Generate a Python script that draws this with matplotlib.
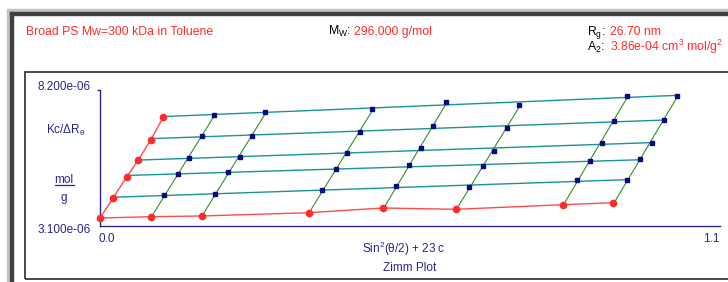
import matplotlib
matplotlib.use("Agg")
import matplotlib.pyplot as plt
from matplotlib.patches import Rectangle
import numpy as np

plt.rcParams['font.family'] = ['Liberation Sans', 'DejaVu Sans']
plt.rcParams['mathtext.fontset'] = 'custom'
plt.rcParams['mathtext.rm'] = 'Liberation Sans'
plt.rcParams['mathtext.it'] = 'Liberation Sans'
plt.rcParams['mathtext.bf'] = 'Liberation Sans:bold'

# sin^2(theta/2) values of each angle (c = 0 extrapolation points)
sin2 = [0.0905, 0.1804, 0.3708, 0.5016, 0.6316, 0.8220, 0.9107]
kc_zero_angle = [3.449, 3.475, 3.599, 3.775, 3.726, 3.899, 3.974]  # x1e-6

# 23*c for each concentration (theta = 0 extrapolation points)
conc_term = [0.0236, 0.0474, 0.0680, 0.0900, 0.1123]
kc_zero_conc = [4.161, 4.949, 5.575, 6.325, 7.188]  # x1e-6

intercept = 3.40  # x1e-6, 1/Mw

# measured Kc/R (x1e-6), rows = concentration, cols = angle
kc_meas = [
    [4.251, 4.289, 4.439, 4.600, 4.574, 4.814, 4.814],
    [5.050, 5.114, 5.226, 5.380, 5.339, 5.526, 5.601],
    [5.639, 5.699, 5.826, 6.014, 5.924, 6.201, 6.224],
    [6.486, 6.475, 6.614, 6.861, 6.764, 7.038, 7.075],
    [7.274, 7.364, 7.499, 7.750, 7.649, 7.975, 7.975],
]

y_min, y_max = 3.1, 8.2
x_min, x_max = 0.0, 1.1

navy = '#26268c'
red = '#ff2a2a'
red_line = '#ff4a4a'
teal = '#1a9494'
green = '#2f8f2f'
sq = '#0a0a80'

W, H = 728, 282
fig = plt.figure(figsize=(W / 100, H / 100), dpi=100)
fig.patch.set_facecolor('white')

def fx(px):
    return px / W

def fy(py):
    return 1 - py / H

# window frame decorations
fig.patches.append(Rectangle((fx(7), 0), fx(3), fy(9), transform=fig.transFigure, color='#c4c4c4', zorder=0))
fig.patches.append(Rectangle((fx(7), fy(12)), 1, 3 / H, transform=fig.transFigure, color='#c4c4c4', zorder=0))
fig.patches.append(Rectangle((fx(10), 0), fx(3), fy(12), transform=fig.transFigure, color='#404040', zorder=0))
fig.patches.append(Rectangle((fx(10), fy(14.5)), 1, 2.5 / H, transform=fig.transFigure, color='#404040', zorder=0))
fig.patches.append(Rectangle((fx(25), fy(279)), 1, (279 - 72) / H, transform=fig.transFigure,
                             fill=False, edgecolor='#3a3a3a', lw=1.3, zorder=0))

# header
fig.text(fx(26), fy(35), 'Broad PS Mw=300 kDa in Toluene', color=red, fontsize=8.8, va='baseline')
fig.text(fx(328), fy(35), r'M$_{\rm W}$:', color='black', fontsize=8.8, va='baseline')
fig.text(fx(354), fy(35), '296,000 g/mol', color=red, fontsize=8.8, va='baseline')
fig.text(fx(587), fy(35), r'R$_{\rm g}$:', color='black', fontsize=8.8, va='baseline')
fig.text(fx(610), fy(35), '26.70 nm', color=red, fontsize=8.8, va='baseline')
fig.text(fx(587), fy(51), r'A$_{\rm 2}$:', color='black', fontsize=8.8, va='baseline')
fig.text(fx(610), fy(51), r'3.86e-04 cm$^{\rm 3}$ mol/g$^{\rm 2}$', color=red, fontsize=8.8, va='baseline')

ax = fig.add_axes([fx(100), fy(226), 620 / W, 136 / H])
ax.set_xlim(x_min, x_max)
ax.set_ylim(y_min, y_max)
ax.patch.set_alpha(0)
for s in ['top', 'right']:
    ax.spines[s].set_visible(False)
for s in ['left', 'bottom']:
    ax.spines[s].set_color(navy)
    ax.spines[s].set_linewidth(1.0)
ax.set_xticks([])
ax.set_yticks([y_max])
ax.tick_params(axis='y', length=2, width=1, color=navy, labelleft=False)

kc = np.array(kc_meas)
sin2 = np.array(sin2)
conc_term = np.array(conc_term)

# constant-concentration fits (teal), from theta=0 to the largest angle
for i in range(len(conc_term)):
    b, a = np.polyfit(sin2, kc[i], 1)
    xs = np.array([0.0, sin2[-1]])
    ax.plot(xs + conc_term[i], a + b * xs, color=teal, lw=1.0, zorder=2, clip_on=False)

# constant-angle fits (green), from c=0 to the highest concentration
for j in range(len(sin2)):
    b, a = np.polyfit(conc_term, kc[:, j], 1)
    xs = np.array([0.0, conc_term[-1]])
    ax.plot(xs + sin2[j], a + b * xs, color=green, lw=0.8, zorder=2, clip_on=False)

# extrapolations (red)
ax.plot(np.concatenate([[0.0], conc_term]), np.concatenate([[intercept], kc_zero_conc]),
        color=red_line, lw=1.0, zorder=3, clip_on=False)
ax.plot(np.concatenate([[0.0], sin2]), np.concatenate([[intercept], kc_zero_angle]),
        color=red_line, lw=1.0, zorder=3, clip_on=False)
ax.plot(np.concatenate([[0.0], conc_term, sin2]),
        np.concatenate([[intercept], kc_zero_conc, kc_zero_angle]),
        ls='none', marker='o', ms=4.5, color=red, zorder=4, clip_on=False)

# measured points
for i in range(len(conc_term)):
    ax.plot(sin2 + conc_term[i], kc[i], ls='none', marker='s', ms=3.2, color=sq, zorder=4, clip_on=False)

# axis texts
ax.text(-0.0145, 1.025, f'{y_max * 1e-6:.3e}', transform=ax.transAxes, ha='right', va='center',
        color=navy, fontsize=8.5)
ax.text(-0.0145, -0.03, f'{y_min * 1e-6:.3e}', transform=ax.transAxes, ha='right', va='center',
        color=navy, fontsize=8.5)
ax.text(-0.003, -0.095, f'{x_min:.1f}', transform=ax.transAxes, ha='left', va='center',
        color=navy, fontsize=8.5)
ax.text(1.0, -0.095, f'{x_max:.1f}', transform=ax.transAxes, ha='right', va='center',
        color=navy, fontsize=8.5)
ax.text(-0.056, 0.70, r'Kc/ΔR$_{\rm θ}$', transform=ax.transAxes, ha='center', va='center',
        color=navy, fontsize=8.5)
ax.text(-0.058, 0.335, 'mol', transform=ax.transAxes, ha='center', va='center', color=navy, fontsize=8.5)
ax.plot([-0.073, -0.042], [0.30, 0.30], transform=ax.transAxes, color=navy, lw=0.9, clip_on=False)
ax.text(-0.058, 0.205, 'g', transform=ax.transAxes, ha='center', va='center', color=navy, fontsize=8.5)
ax.text(0.49, -0.17, r'Sin$^{\rm 2}$(θ/2) + 23 c', transform=ax.transAxes, ha='center', va='center',
        color=navy, fontsize=8.5)
ax.text(0.50, -0.31, 'Zimm Plot', transform=ax.transAxes, ha='center', va='center',
        color=navy, fontsize=8.5)

fig.savefig('out.png', dpi=100)
